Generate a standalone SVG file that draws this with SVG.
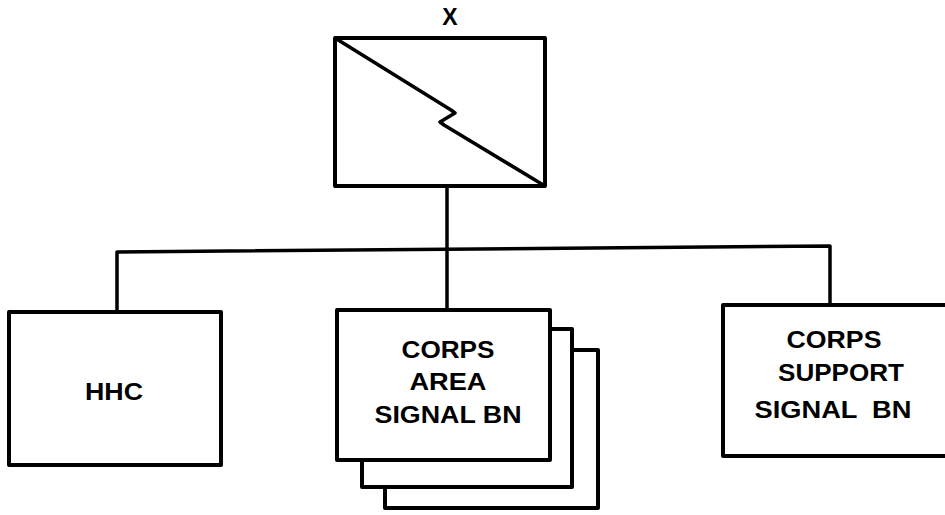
<svg xmlns="http://www.w3.org/2000/svg" width="945" height="515" viewBox="0 0 945 515">
<style>
.box{fill:#fff;stroke:#000;stroke-width:4;stroke-linejoin:round}
.ln{fill:none;stroke:#000;stroke-width:3.5;stroke-linejoin:round}
.t{font-family:"Liberation Sans",Arial,sans-serif;font-weight:bold;font-size:23px;fill:#000;text-anchor:middle;white-space:pre}
</style>
<rect width="945" height="515" fill="#fff"/>
<g id="connectors">
<line class="ln" x1="447" y1="186" x2="447" y2="311"/>
<polyline class="ln" points="117,312 117,252 830,246 830,306"/>
</g>
<g id="hq">
<text class="t" x="450" y="25">X</text>
<rect class="box" x="335" y="38" width="210" height="148"/>
<polyline class="ln" points="335,38 451,110 455,113 440,122 444,125 545,186"/>
</g>
<g id="hhc">
<rect class="box" x="9" y="312" width="212" height="153"/>
<text class="t" x="114" y="400" textLength="58" lengthAdjust="spacingAndGlyphs">HHC</text>
</g>
<g id="area">
<rect class="box" x="385" y="350" width="213" height="158"/>
<rect class="box" x="362" y="329" width="210" height="158"/>
<rect class="box" x="337" y="310" width="213" height="150"/>
<text class="t" x="448" y="358" textLength="93" lengthAdjust="spacingAndGlyphs">CORPS</text>
<text class="t" x="448" y="390" textLength="77" lengthAdjust="spacingAndGlyphs">AREA</text>
<text class="t" x="448" y="423" textLength="147" lengthAdjust="spacingAndGlyphs">SIGNAL BN</text>
</g>
<g id="support">
<rect class="box" x="723" y="305" width="240" height="151"/>
<text class="t" x="834" y="348" textLength="95" lengthAdjust="spacingAndGlyphs">CORPS</text>
<text class="t" x="841" y="381" textLength="126" lengthAdjust="spacingAndGlyphs">SUPPORT</text>
<text class="t" x="833" y="418" textLength="157" lengthAdjust="spacingAndGlyphs" xml:space="preserve">SIGNAL  BN</text>
</g>
</svg>
